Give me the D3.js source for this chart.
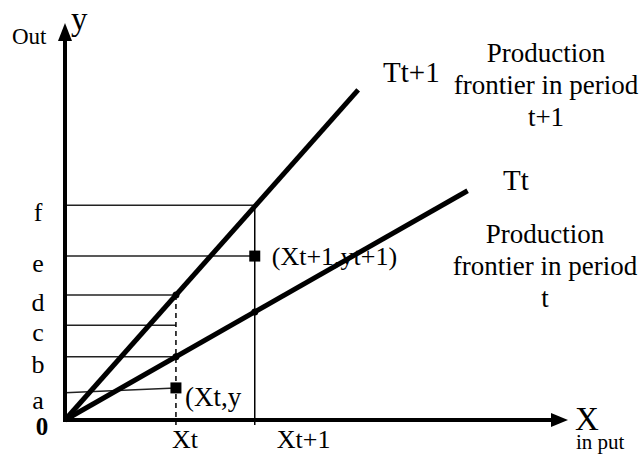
<!DOCTYPE html>
<html>
<head>
<meta charset="utf-8">
<script src="https://cdn.jsdelivr.net/npm/d3@7"></script>
<style>
  body { margin: 0; background: #fff; }
</style>
</head>
<body>
<svg id="chart" width="644" height="455"></svg>
<script>
// output levels marked on the y axis
const levelNames = ["a", "b", "c", "d", "e", "f"];
const levelValues = [0.55, 1.28, 1.92, 2.53, 3.32, 4.35];

// input levels on the x axis
const inputNames = ["Xt", "Xt+1"];
const inputValues = [2.21, 3.78];

// production frontiers (rays from the origin)
const frontierNames = ["Tt+1", "Tt"];
const frontierSlopes = [1.145, 0.579];
const frontierEnds = [5.84, 8.02];

// observed production points
const obsNames = ["(Xt,y", "(Xt+1,yt+1)"];
const obsX = [2.21, 3.78];
const obsY = [0.65, 3.32];

const serif = "'Liberation Serif', 'Times New Roman', Times, 'DejaVu Serif', serif";
const svg = d3.select("#chart")
  .attr("font-family", serif);

// scales
const x = d3.scaleLinear().domain([0, 10]).range([65, 567]);
const y = d3.scaleLinear().domain([0, 8]).range([420, 25]);

const lv = name => levelValues[levelNames.indexOf(name)];
const xt = inputValues[0], xt1 = inputValues[1];

// horizontal guide lines
const guides = [
  {x1: 0, y1: lv("f"), x2: xt1, y2: lv("f")},
  {x1: 0, y1: lv("e"), x2: xt1, y2: lv("e")},
  {x1: 0, y1: lv("d"), x2: xt, y2: lv("d")},
  {x1: 0, y1: lv("c"), x2: xt, y2: lv("c")},
  {x1: 0, y1: lv("b"), x2: xt, y2: lv("b")},
  {x1: 0, y1: lv("a"), x2: obsX[0], y2: obsY[0]}
];
svg.selectAll(".guide")
  .data(guides)
  .enter()
  .append("line")
  .attr("class", "guide")
  .attr("x1", d => x(d.x1)).attr("y1", d => y(d.y1))
  .attr("x2", d => x(d.x2)).attr("y2", d => y(d.y2))
  .attr("stroke", "#222")
  .attr("stroke-width", 1.5);

// vertical lines at Xt (dashed) and Xt+1 (solid)
svg.append("line")
  .attr("x1", x(xt)).attr("x2", x(xt))
  .attr("y1", y(lv("d"))).attr("y2", y(0) + 5)
  .attr("stroke", "#000").attr("stroke-width", 1.5)
  .attr("stroke-dasharray", "5,4");

svg.append("line")
  .attr("x1", x(xt1)).attr("x2", x(xt1))
  .attr("y1", y(lv("f"))).attr("y2", y(0) + 5)
  .attr("stroke", "#000").attr("stroke-width", 1.5);

// frontiers
frontierSlopes.forEach((s, i) => {
  svg.append("line")
    .attr("x1", x(0)).attr("y1", y(0))
    .attr("x2", x(frontierEnds[i])).attr("y2", y(frontierEnds[i] * s))
    .attr("stroke", "#000")
    .attr("stroke-width", 5);
});

// axes with arrowheads
svg.append("line")
  .attr("x1", x(0)).attr("y1", y(0) + 2)
  .attr("x2", x(0)).attr("y2", 38)
  .attr("stroke", "#000").attr("stroke-width", 4);
svg.append("path")
  .attr("d", `M${x(0)},23 L${x(0) - 7},41 L${x(0) + 7},41 Z`)
  .attr("fill", "#000");

svg.append("line")
  .attr("x1", x(0) - 2).attr("y1", y(0))
  .attr("x2", 555).attr("y2", y(0))
  .attr("stroke", "#000").attr("stroke-width", 4);
svg.append("path")
  .attr("d", `M568,${y(0)} L551,${y(0) - 7} L551,${y(0) + 7} Z`)
  .attr("fill", "#000");

// points on frontiers
const dots = [
  [xt, xt * frontierSlopes[0]],
  [xt, xt * frontierSlopes[1]],
  [xt1, xt1 * frontierSlopes[1]]
];
svg.selectAll(".dot")
  .data(dots)
  .enter()
  .append("circle")
  .attr("cx", d => x(d[0]))
  .attr("cy", d => y(d[1]))
  .attr("r", 3.5)
  .attr("fill", "#000");

// observed points
svg.selectAll(".obs")
  .data(obsX)
  .enter()
  .append("rect")
  .attr("x", d => x(d) - 5.5)
  .attr("y", (d, i) => y(obsY[i]) - 5.5)
  .attr("width", 11)
  .attr("height", 11)
  .attr("fill", "#000");

// labels
const fs = 26;
const label = (tx, ty, str, size) => svg.append("text")
  .attr("x", tx).attr("y", ty)
  .attr("font-family", serif)
  .attr("font-size", size || fs)
  .text(str);

levelNames.forEach((n, i) => {
  label(38, y(levelValues[i]) + 16, n).attr("text-anchor", "middle");
});
label(42, 435, "0", 25).attr("text-anchor", "middle").attr("font-weight", "bold");

label(12, 44, "Out", 23);
label(71, 30, "y", 33);
label(575, 430, "X", 33);
label(576, 449, "in put", 21);

inputNames.forEach((n, i) => {
  label(x(inputValues[i]) + (i === 0 ? -4 : 22), 448, n, 26);
});

label(x(obsX[0]) + 9, y(obsY[0]) + 18, obsNames[0], 27);
label(x(obsX[1]) + 17, y(obsY[1]) + 9, obsNames[1]);

label(383, 82, frontierNames[0], 29);
label(503, 190, frontierNames[1], 29);

const notes = [
  {lines: ["Production", "frontier in period", "t+1"], cx: 546, y0: 62},
  {lines: ["Production", "frontier in period", "t"], cx: 545, y0: 243}
];
notes.forEach(n => {
  n.lines.forEach((l, j) => {
    label(n.cx, n.y0 + j * 32, l, 27).attr("text-anchor", "middle");
  });
});
</script>
</body>
</html>
